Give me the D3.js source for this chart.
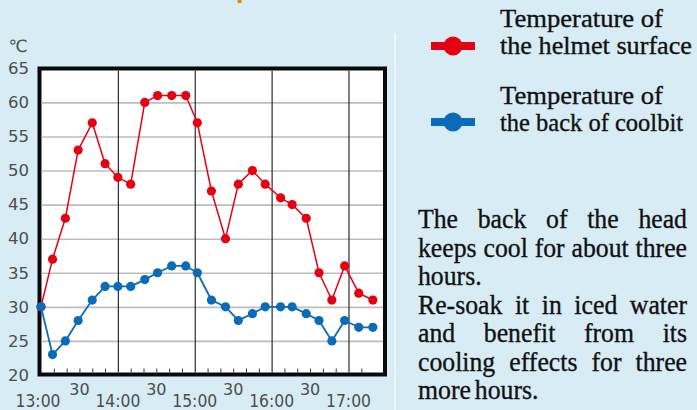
<!DOCTYPE html>
<html>
<head>
<meta charset="utf-8">
<script src="https://cdn.jsdelivr.net/npm/d3@7"></script>
<style>
  html, body { margin: 0; padding: 0; background: #d7ecf5; }
  svg { display: block; }
  text.serif { font-family: "Liberation Serif", "Times New Roman", serif; }
  text.sans { font-family: "DejaVu Sans", sans-serif; }
</style>
</head>
<body>
<svg id="chart" width="697" height="410"></svg>
<script>
// ---- data ----
const sampleMinutes = [0, 9, 19, 29, 40, 50, 60, 70, 81, 91, 102, 113, 122, 133, 144, 154, 165, 175, 187, 196, 207, 217, 227, 237, 248, 259];
const helmetTemp   = [30, 37, 43, 53, 57, 51, 49, 48, 60, 61, 61, 61, 57, 47, 40, 48, 50, 48, 46, 45, 43, 35, 31, 36, 32, 31];
const coolbitTemp  = [30, 23, 25, 28, 31, 33, 33, 33, 34, 35, 36, 36, 35, 31, 30, 28, 29, 30, 30, 30, 29, 28, 25, 28, 27, 27];
const yTickValues  = [20, 25, 30, 35, 40, 45, 50, 55, 60, 65];
const hourMinutes  = [0, 60, 120, 180, 240];
const hourLabels   = ["13:00", "14:00", "15:00", "16:00", "17:00"];
const halfMinutes  = [30, 90, 150, 210];
const halfLabels   = ["30", "30", "30", "30"];
const minorTicks   = [10, 20, 30, 40, 50, 70, 80, 90, 100, 110, 130, 140, 150, 160, 170, 190, 200, 210, 220, 230, 250];
const seriesNames  = [["Temperature of", "the helmet surface"], ["Temperature of", "the back of coolbit"]];
const unitLabel    = "℃";
const noteLines    = [
  { text: "The back of the head", justify: true },
  { text: "keeps cool for about three", justify: true },
  { text: "hours.", justify: false },
  { text: "Re-soak it in iced water", justify: true },
  { text: "and benefit from its", justify: true },
  { text: "cooling effects for three", justify: true },
  { text: "more hours.", justify: false }
];

// ---- layout ----
const RED = "#e60012", BLUE = "#0a6cb8";
const svg = d3.select("#chart");
const frame = { left: 39.5, right: 385, top: 68.5, bottom: 374.5 };
const x = d3.scaleLinear().domain([0, 240]).range([41, 348.5]);
const y = d3.scaleLinear().domain([20, 65]).range([375, 68.3]);

function serifText(sel) {
  return sel.attr("class", "serif").attr("font-family", "Liberation Serif")
    .attr("stroke", "#111").attr("stroke-width", 0.35);
}
function sansText(sel) {
  return sel.attr("class", "sans").attr("font-family", "DejaVu Sans");
}

// background
svg.append("rect").attr("width", 697).attr("height", 410).attr("fill", "#d7ecf5");
// fragment of cut-off title
svg.append("rect").attr("x", 237.5).attr("y", 0).attr("width", 4).attr("height", 3).attr("fill", "#ee8208");
// light separator line
svg.append("line").attr("x1", 395).attr("x2", 395).attr("y1", 33).attr("y2", 410)
  .attr("stroke", "#f4fbfe").attr("stroke-width", 1.5);

// legend
const legendItems = [
  { color: RED, cy: 46, base: [27, 54], widths: [163, 192] },
  { color: BLUE, cy: 122, base: [104, 131], widths: [163, 183] }
];
legendItems.forEach((it, k) => {
  const g = svg.append("g");
  g.append("rect").attr("x", 431).attr("y", it.cy - 4).attr("width", 44).attr("height", 8).attr("fill", it.color);
  g.append("circle").attr("cx", 453).attr("cy", it.cy).attr("r", 9.5).attr("fill", it.color);
  seriesNames[k].forEach((t, j) => {
    serifText(g.append("text")).attr("x", 500).attr("y", it.base[j])
      .attr("font-size", 26).attr("fill", "#111")
      .attr("textLength", it.widths[j]).attr("lengthAdjust", "spacingAndGlyphs")
      .text(t);
  });
});

// note paragraph (justified)
const noteLeft = 418, noteRight = 687, noteSize = 28, condense = 0.92;
noteLines.forEach((ln, i) => {
  const base = 228 + i * 28.5;
  const g = svg.append("g").attr("transform", `translate(${noteLeft},${base}) scale(${condense},1)`);
  const avail = (noteRight - noteLeft) / condense;
  const words = ln.text.split(" ");
  const nodes = words.map(w => serifText(g.append("text"))
    .attr("font-size", noteSize).attr("fill", "#111").text(w));
  const widths = nodes.map(n => n.node().getComputedTextLength());
  const total = d3.sum(widths);
  const gap = ln.justify && words.length > 1 ? (avail - total) / (words.length - 1) : noteSize * 0.15;
  let cx = 0;
  nodes.forEach((n, j) => { n.attr("x", cx); cx += widths[j] + gap; });
});

// plot frame
svg.append("rect")
  .attr("x", frame.left).attr("y", frame.top)
  .attr("width", frame.right - frame.left).attr("height", frame.bottom - frame.top)
  .attr("fill", "#ffffff").attr("stroke", "#0a0a0a").attr("stroke-width", 4);

const innerL = frame.left + 2, innerR = frame.right - 2, innerT = frame.top + 2, innerB = frame.bottom - 2;

// horizontal gridlines
const yGrid = svg.append("g").attr("transform", `translate(${innerL},0)`)
  .call(d3.axisLeft(y).tickValues(yTickValues.filter(v => v > 20 && v < 65))
        .tickSize(-(innerR - innerL)).tickFormat(""));
yGrid.select(".domain").remove();
yGrid.selectAll("line").attr("stroke", "#bdbdbd").attr("stroke-width", 1.6);

// hour vertical lines
const hourGrid = svg.append("g").attr("transform", `translate(0,${innerB})`)
  .call(d3.axisBottom(x).tickValues(hourMinutes.slice(1)).tickSize(-(innerB - innerT)).tickFormat(""));
hourGrid.select(".domain").remove();
hourGrid.selectAll("line").attr("stroke", "#2b2b2b").attr("stroke-width", 1.2);

// minor ticks along bottom
const minor = svg.append("g").attr("transform", `translate(0,${innerB})`)
  .call(d3.axisBottom(x).tickValues(minorTicks).tickSize(-4).tickFormat(""));
minor.select(".domain").remove();
minor.selectAll("line").attr("stroke", "#333").attr("stroke-width", 1);

// y labels
const yLab = svg.append("g").attr("transform", "translate(29,0)")
  .call(d3.axisLeft(y).tickValues(yTickValues).tickSize(0).tickPadding(0));
yLab.select(".domain").remove();
yLab.attr("font-family", null).attr("font-size", null);
sansText(yLab.selectAll("text")).attr("font-size", 16.5).attr("fill", "#4d4d4d");

sansText(svg.append("text")).attr("x", 18).attr("y", 52).attr("text-anchor", "middle")
  .attr("font-size", 17).attr("fill", "#4d4d4d")
  .text(unitLabel);

// x labels
sansText(svg.append("g").selectAll("text").data(hourMinutes).join("text"))
  .attr("x", (d, i) => x(d) - (i === 0 ? 3 : 0)).attr("y", 407).attr("text-anchor", "middle")
  .attr("font-size", 18).attr("fill", "#4d4d4d")
  .attr("textLength", 45).attr("lengthAdjust", "spacingAndGlyphs")
  .text((d, i) => hourLabels[i]);
sansText(svg.append("g").selectAll("text").data(halfMinutes).join("text"))
  .attr("x", d => x(d)).attr("y", 395).attr("text-anchor", "middle")
  .attr("font-size", 16).attr("fill", "#4d4d4d")
  .text((d, i) => halfLabels[i]);

// series
function drawSeries(values, color, width) {
  const pts = sampleMinutes.map((m, i) => [m, values[i]]);
  const line = d3.line().x(d => x(d[0])).y(d => y(d[1]));
  svg.append("path").datum(pts).attr("d", line)
    .attr("fill", "none").attr("stroke", color).attr("stroke-width", width).attr("stroke-linejoin", "round");
  svg.append("g").selectAll("circle").data(pts).join("circle")
    .attr("cx", d => x(d[0])).attr("cy", d => y(d[1])).attr("r", 4.6).attr("fill", color);
}
drawSeries(helmetTemp, RED, 1.5);
drawSeries(coolbitTemp, BLUE, 1.8);
</script>
</body>
</html>
